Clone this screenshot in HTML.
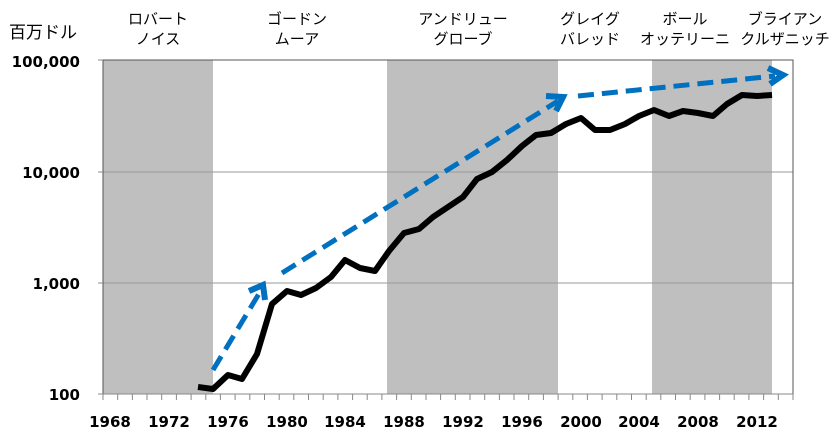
<!DOCTYPE html>
<html><head><meta charset="utf-8"><style>
body{margin:0;background:#fff}
svg text{font-family:"Liberation Sans","Noto Sans CJK JP",sans-serif}
svg text.n{font-family:"DejaVu Sans",sans-serif;font-weight:bold}
</style></head><body>
<svg width="839" height="439" viewBox="0 0 839 439" xmlns="http://www.w3.org/2000/svg">
<rect x="103" y="60" width="110" height="334" fill="#bfbfbf"/>
<rect x="387" y="60" width="171" height="334" fill="#bfbfbf"/>
<rect x="652" y="60" width="120" height="334" fill="#bfbfbf"/>
<line x1="103" y1="172" x2="793" y2="172" stroke="#999" stroke-width="1"/>
<line x1="103" y1="283" x2="793" y2="283" stroke="#999" stroke-width="1"/>
<rect x="103" y="60" width="690" height="334" fill="none" stroke="#555" stroke-width="1"/>
<line x1="98" y1="60" x2="103" y2="60" stroke="#888"/>
<line x1="98" y1="172" x2="103" y2="172" stroke="#888"/>
<line x1="98" y1="283" x2="103" y2="283" stroke="#888"/>
<line x1="98" y1="394" x2="793" y2="394" stroke="#888"/>
<path stroke="#888" fill="none" d="M103 394v6M117.7 394v6M132.4 394v6M147 394v6M161.7 394v6M176.4 394v6M191.1 394v6M205.8 394v6M220.4 394v6M235.1 394v6M249.8 394v6M264.5 394v6M279.2 394v6M293.8 394v6M308.5 394v6M323.2 394v6M337.9 394v6M352.6 394v6M367.2 394v6M381.9 394v6M396.6 394v6M411.3 394v6M426 394v6M440.6 394v6M455.3 394v6M470 394v6M484.7 394v6M499.4 394v6M514 394v6M528.7 394v6M543.4 394v6M558.1 394v6M572.8 394v6M587.4 394v6M602.1 394v6M616.8 394v6M631.5 394v6M646.2 394v6M660.8 394v6M675.5 394v6M690.2 394v6M704.9 394v6M719.6 394v6M734.2 394v6M748.9 394v6M763.6 394v6M778.3 394v6M793 394v6"/>
<g font-size="15" text-anchor="end" fill="#000">
<text class="n" x="80" y="67">100,000</text>
<text class="n" x="80" y="178">10,000</text>
<text class="n" x="80" y="289">1,000</text>
<text class="n" x="80" y="400">100</text>
</g>
<text x="9" y="38" font-size="17">百万ドル</text>
<g font-size="15" text-anchor="middle">
<text class="n" x="110" y="427">1968</text><text class="n" x="169" y="427">1972</text><text class="n" x="228" y="427">1976</text>
<text class="n" x="287" y="427">1980</text><text class="n" x="345" y="427">1984</text><text class="n" x="404" y="427">1988</text>
<text class="n" x="463" y="427">1992</text><text class="n" x="522" y="427">1996</text><text class="n" x="581" y="427">2000</text>
<text class="n" x="639" y="427">2004</text><text class="n" x="698" y="427">2008</text><text class="n" x="757" y="427">2012</text>
</g>
<g font-size="15" text-anchor="middle">
<text x="158" y="24">ロバート</text><text x="158" y="44">ノイス</text>
<text x="297" y="24">ゴードン</text><text x="297" y="44">ムーア</text>
<text x="463" y="24">アンドリュー</text><text x="463" y="44">グローブ</text>
<text x="590" y="24">グレイグ</text><text x="590" y="44">バレッド</text>
<text x="685" y="24">ボール</text><text x="685" y="44">オッテリーニ</text>
<text x="785" y="24">ブライアン</text><text x="785" y="44">クルザニッチ</text>
</g>
<polyline fill="none" stroke="#000" stroke-width="6" stroke-linejoin="round" points="198,387 213,389 228,375 242,379 257,354 272,304 287,291 301,295 316,288 331,277 345,260 360,268 375,271 389,251 404,233 419,229 433,217 448,207 463,197 477,179 492,172 507,160 522,146 536,135 551,133 566,124 581,118 595,130 610,130 625,124 639,116 654,110 669,116 683,111 698,113 713,116 727,104 742,95 757,96 772,95"/>
<g stroke="#0070c0" stroke-width="5" fill="none" stroke-dasharray="16,8">
<line x1="213" y1="370" x2="260" y2="292"/>
<line x1="282" y1="273" x2="558" y2="101"/>
<line x1="578" y1="96" x2="775" y2="76"/>
</g>
<g fill="none" stroke="#0070c0" stroke-width="6" stroke-linejoin="miter">
<polyline points="249,291 263,285 265,300"/>
<polyline points="546,96 563,97 556,111"/>
<polyline points="768,68 783,75 770,84"/>
</g>
</svg>
</body></html>
